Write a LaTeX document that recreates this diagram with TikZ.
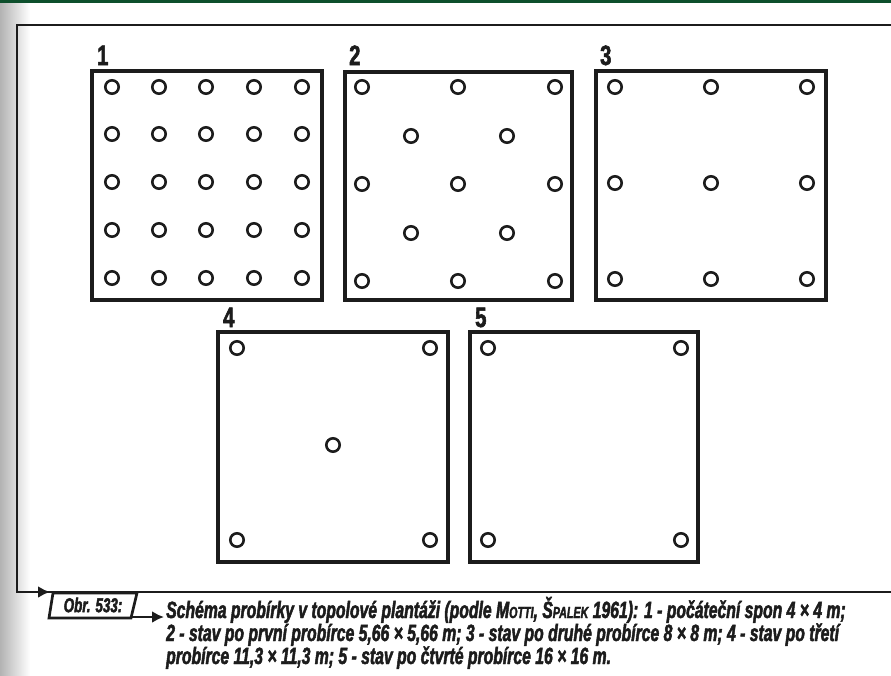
\documentclass[tikz,border=0pt]{standalone}
\usepackage{fontspec}
\usetikzlibrary{arrows.meta}
\newfontfamily\capfont[FakeStretch=0.67,FakeBold=2]{Liberation Sans}
\newfontfamily\labfont[FakeStretch=0.72,FakeBold=2]{Liberation Sans}
\definecolor{ink}{HTML}{1C1C1C}
\definecolor{topgreen}{HTML}{0D4F2C}
\tikzset{
  plot/.style={draw=ink, line width=3.1pt},
  tree/.style={draw=ink, line width=2.6pt},
  plotlabel/.style={font=\labfont\bfseries\fontsize{28}{28}\selectfont, text=ink, anchor=base west, inner sep=0pt},
  captext/.style={font=\capfont\bfseries\itshape\fontsize{23.5}{23.5}\selectfont, text=ink, anchor=base west, inner sep=0pt},
  framel/.style={draw=ink, line width=2.7pt},
}
\begin{document}
\begin{tikzpicture}[x=1pt,y=-1pt]
\useasboundingbox (0,0) rectangle (891,675);
\fill[white] (0,0) rectangle (891,675);
% page-edge shadow
\shade[left color=black!30, right color=white] (0,0) rectangle (30,675);
\fill[topgreen] (0,0) rectangle (891,3);
% frame
\draw[framel] (891,25) -- (17,25) -- (17,592) -- (891,592);
\coordinate (fa) at (20,592);
\coordinate (fb) at (50,592);
\draw[framel, -{Latex[length=12pt,width=12pt]}] (fa) -- (fb);
% plots
\draw[plot] (92,71) rectangle (322,300);
\draw[plot] (345,72) rectangle (572,300);
\draw[plot] (596,71) rectangle (826,300);
\draw[plot] (218,332) rectangle (448,562);
\draw[plot] (470,332) rectangle (698,562);
\node[plotlabel] (l1) at (97,65) {1};
\node[plotlabel] (l2) at (349,65) {2};
\node[plotlabel] (l3) at (600,65) {3};
\node[plotlabel] (l4) at (223,327) {4};
\node[plotlabel] (l5) at (475,327) {5};
% trees
\foreach \x in {112,159,206,254,302}
  \foreach \y in {87,134,182,230,278}
    \draw[tree] (\x,\y) circle[radius=6.7];
\foreach \x in {362,458,555}
  \foreach \y in {87,184,281}
    \draw[tree] (\x,\y) circle[radius=6.7];
\foreach \x in {411,507}
  \foreach \y in {136,233}
    \draw[tree] (\x,\y) circle[radius=6.7];
\foreach \x in {615,711,807}
  \foreach \y in {87,183,279}
    \draw[tree] (\x,\y) circle[radius=6.7];
\foreach \p in {(237,348),(430,348),(333,445),(237,540),(430,540)}
  \draw[tree] \p circle[radius=6.7];
\foreach \p in {(488,348),(681,348),(488,540),(681,540)}
  \draw[tree] \p circle[radius=6.7];
% caption tag
\draw[framel] (53,593) -- (137,593) -- (131,618) -- (49,618) -- cycle;
\node[font=\capfont\bfseries\itshape\fontsize{20}{20}\selectfont, text=ink, inner sep=0pt] (obr) at (93,605) {Obr. 533:};
\coordinate (ta) at (131,617);
\coordinate (tb) at (164,617);
\draw[framel, -{Latex[length=12pt,width=12pt]}] (ta) -- (tb);
% caption
\node[captext] (c1) at (166,618) {Schéma probírky v topolové plantáži (podle M{\fontsize{16}{16}\selectfont OTTI}, Š{\fontsize{16}{16}\selectfont PALEK} 1961): 1 - počáteční spon 4 × 4 m;};
\node[captext] (c2) at (166,641) {2 - stav po první probírce 5,66 × 5,66 m; 3 - stav po druhé probírce 8 × 8 m; 4 - stav po třetí};
\node[captext] (c3) at (166,664) {probírce 11,3 × 11,3 m; 5 - stav po čtvrté probírce 16 × 16 m.};
\end{tikzpicture}
\end{document}
